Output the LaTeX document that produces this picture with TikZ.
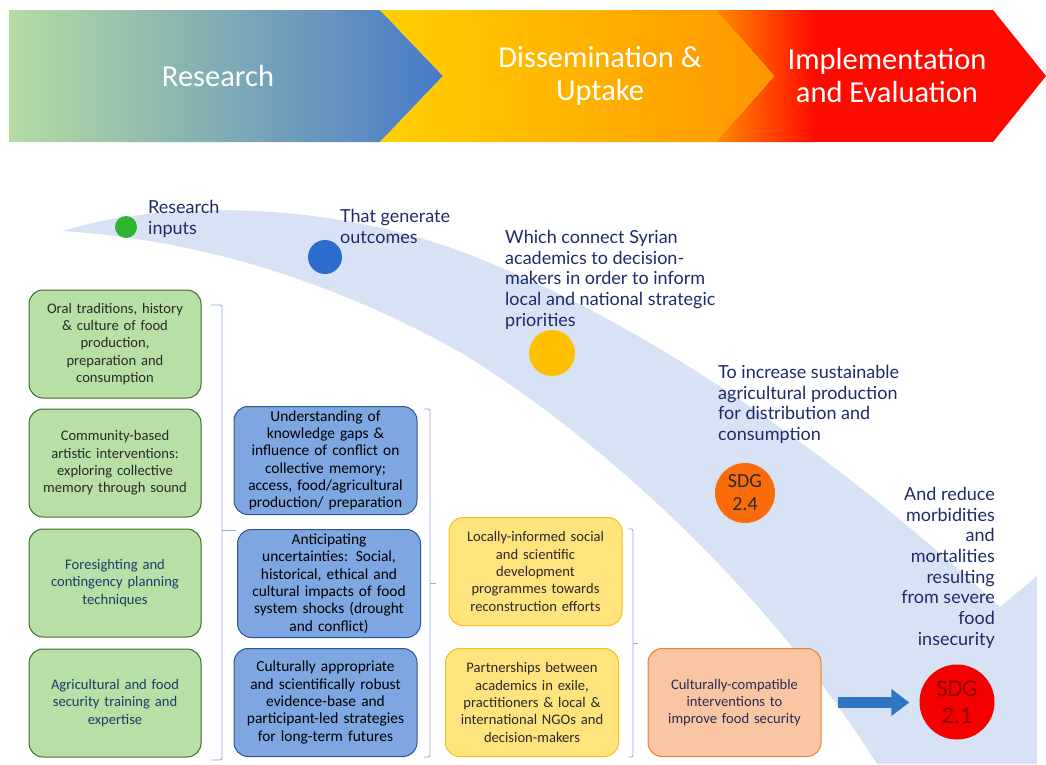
\documentclass[tikz,border=0pt]{standalone}
\usepackage{fontspec}
\setmainfont{Carlito}
\newfontfamily\labelfont{Lato}
\usetikzlibrary{positioning,arrows.meta}
\definecolor{bandblue}{HTML}{D7E3F4}
\definecolor{navy}{HTML}{1F2A6B}
\definecolor{greenfill}{HTML}{B8DFA5}
\definecolor{greendraw}{HTML}{3F6A2E}
\definecolor{bluefill}{HTML}{7EA6E0}
\definecolor{bluedraw}{HTML}{2F5597}
\definecolor{yellowfill}{HTML}{FFE37D}
\definecolor{yellowdraw}{HTML}{F2C21B}
\definecolor{orangefill}{HTML}{F9C5A2}
\definecolor{orangedraw}{HTML}{ED7D31}
\definecolor{orangetext}{HTML}{2B2B5A}
\definecolor{brk}{HTML}{8FAADC}
\definecolor{boxtext}{HTML}{2A2A2A}
\definecolor{bluetext}{HTML}{1F3A6E}
\definecolor{dotgreen}{HTML}{2DB52D}
\definecolor{dotblue}{HTML}{2D6CCF}
\definecolor{dotgold}{HTML}{FFC000}
\definecolor{sdgorange}{HTML}{F96B0B}
\definecolor{sdgred}{HTML}{F40000}
\definecolor{sdgredtext}{HTML}{8C0000}
\definecolor{arrowblue}{HTML}{2E75C6}
\definecolor{implred}{HTML}{FF0A00}
\definecolor{implorange}{HTML}{FF8A00}

\begin{document}
\begin{tikzpicture}[x=1pt,y=-1pt,
box/.style={draw,rounded corners=14pt,line width=1pt,minimum height=108pt,
    align=center,inner sep=3pt,font=\fontsize{14.6}{17.4}\selectfont},
greenbox/.style={box,fill=greenfill,draw=greendraw,text width=166pt,text=boxtext},
bluebox/.style={box,fill=bluefill,draw=bluedraw,text width=177pt,text=black,
    font=\fontsize{15.4}{17.3}\selectfont},
yellowbox/.style={box,fill=yellowfill,draw=yellowdraw,text width=167pt,text=boxtext},
tag/.style={font=\labelfont\fontsize{18}{20.7}\selectfont,text=navy,inner sep=0pt},
dot/.style={circle,inner sep=0pt},
sdg/.style={circle,inner sep=0pt,align=center},
stage/.style={text=white,align=center,font=\fontsize{30.5}{33}\selectfont},
bracket/.style={draw=brk,line width=0.9pt,rounded corners=2pt}]
\useasboundingbox (0,0) rectangle (1046,764);

% stages
\shade[left color={rgb,255:red,182;green,220;blue,162},right color={rgb,255:red,72;green,122;blue,200}]
  (9,10) -- (380,10) -- (443,76) -- (380,142) -- (9,142) -- cycle;
\shade[left color={rgb,255:red,255;green,208;blue,0},right color={rgb,255:red,255;green,150;blue,0}]
  (380,10) -- (717,10) -- (775,76) -- (717,142) -- (380,142) -- (443,76) -- cycle;
\begin{scope}
\clip (717,10) -- (993,10) -- (1046,76) -- (993,142) -- (717,142) -- (775,76) -- cycle;
\fill[implred] (717,10) rectangle (1046,142);
\shade[left color=implorange,right color=implred] (717,10) rectangle (815,142);
\end{scope}
\node[stage] (research) at (218,76) {Research};
\node[stage] (dissem) at (600,76) {Dissemination \&\\Uptake};
\node[stage] (impl) at (887,76) {Implementation\\and Evaluation};

% swoosh
\fill[bandblue] (63,231) .. controls (160,200) and (330,200) .. (470,255)
  .. controls (640,320) and (830,450) .. (1000,607) -- (1037,576) -- (1037,764) -- (877,764)
  .. controls (780,610) and (620,450) .. (460,352)
  .. controls (330,280) and (200,240) .. (63,231) -- cycle;

\node[dot,fill=dotgreen,minimum size=22pt] (inputs) at (126,227) {};
\node[dot,fill=dotblue,minimum size=34pt] (outcomes) at (325,257) {};
\node[dot,fill=dotgold,minimum size=46pt] (connect) at (552,353) {};
\node[sdg,fill=sdgorange,minimum size=60pt,font=\fontsize{20}{23}\selectfont,text=boxtext] (sdg24) at (745,493) {SDG\\2.4};
\node[sdg,fill=sdgred,minimum size=75pt,font=\fontsize{24}{27}\selectfont,text=sdgredtext] (sdg21) at (957,702) {SDG\\2.1};

\node[tag,anchor=north west,align=left] (tinputs) at (148,200) {Research\\inputs};
\node[tag,anchor=north west,align=left] (toutcomes) at (340,209) {That generate\\outcomes};
\node[tag,anchor=north west,align=left] (tconnect) at (505,230) {Which connect Syrian\\academics to decision-\\makers in order to inform\\local and national strategic\\priorities};
\node[tag,anchor=north west,align=left] (tsdg24) at (718,365) {To increase sustainable\\agricultural production\\for distribution and\\consumption};
\node[tag,anchor=north east,align=right] (tsdg21) at (995,487) {And reduce\\morbidities\\and\\mortalities\\resulting\\from severe\\food\\insecurity};

% inputs
\node[greenbox] (g1) at (115,344) {Oral traditions, history\\\& culture of food\\production,\\preparation and\\consumption};
\node[greenbox,below=10pt of g1] (g2) {Community-based\\artistic interventions:\\exploring collective\\memory through sound};
\node[greenbox,below=11pt of g2,text=bluetext] (g3) {Foresighting and\\contingency planning\\techniques};
\node[greenbox,below=11pt of g3,text=bluetext] (g4) {Agricultural and food\\security training and\\expertise};

% outcomes
\node[bluebox] (b1) at (325.5,460.5) {Understanding of\\knowledge gaps \&\\influence of conflict on\\collective memory;\\access, food/agricultural\\production/ preparation};
\node[bluebox] (b2) at (329,583.5) {Anticipating\\uncertainties: Social,\\historical, ethical and\\cultural impacts of food\\system shocks (drought\\and conflict)};
\node[bluebox] (b3) at (325.5,702.5) {Culturally appropriate\\and scientifically robust\\evidence-base and\\participant-led strategies\\for long-term futures};

% uptake
\node[yellowbox] (y1) at (535.5,571.5) {Locally-informed social\\and scientific\\development\\programmes towards\\reconstruction efforts};
\node[yellowbox] (y2) at (532,702.5) {Partnerships between\\academics in exile,\\practitioners \& local \&\\international NGOs and\\decision-makers};
\node[box,fill=orangefill,draw=orangedraw,text width=167pt,text=orangetext] (orange) at (734.5,702.5) {Culturally-compatible\\interventions to\\improve food security};

% brackets
\draw[bracket] (211,305) -- (222,305) -- (222,760) -- (211,760);
\draw[bracket] (222,530) -- (236,530);
\draw[bracket] (424,409) -- (430,409) -- (430,757) -- (424,757);
\draw[bracket] (430,583) -- (436,583);
\draw[bracket] (628,529) -- (633,529) -- (633,757) -- (628,757);
\draw[bracket] (633,643) -- (638,643);

\draw[arrowblue,line width=11pt,-{Triangle[length=18pt,width=26pt]}]
  ([xshift=16pt]orange.east) -- ([xshift=-10pt]sdg21.west |- orange.east);
\end{tikzpicture}
\end{document}
